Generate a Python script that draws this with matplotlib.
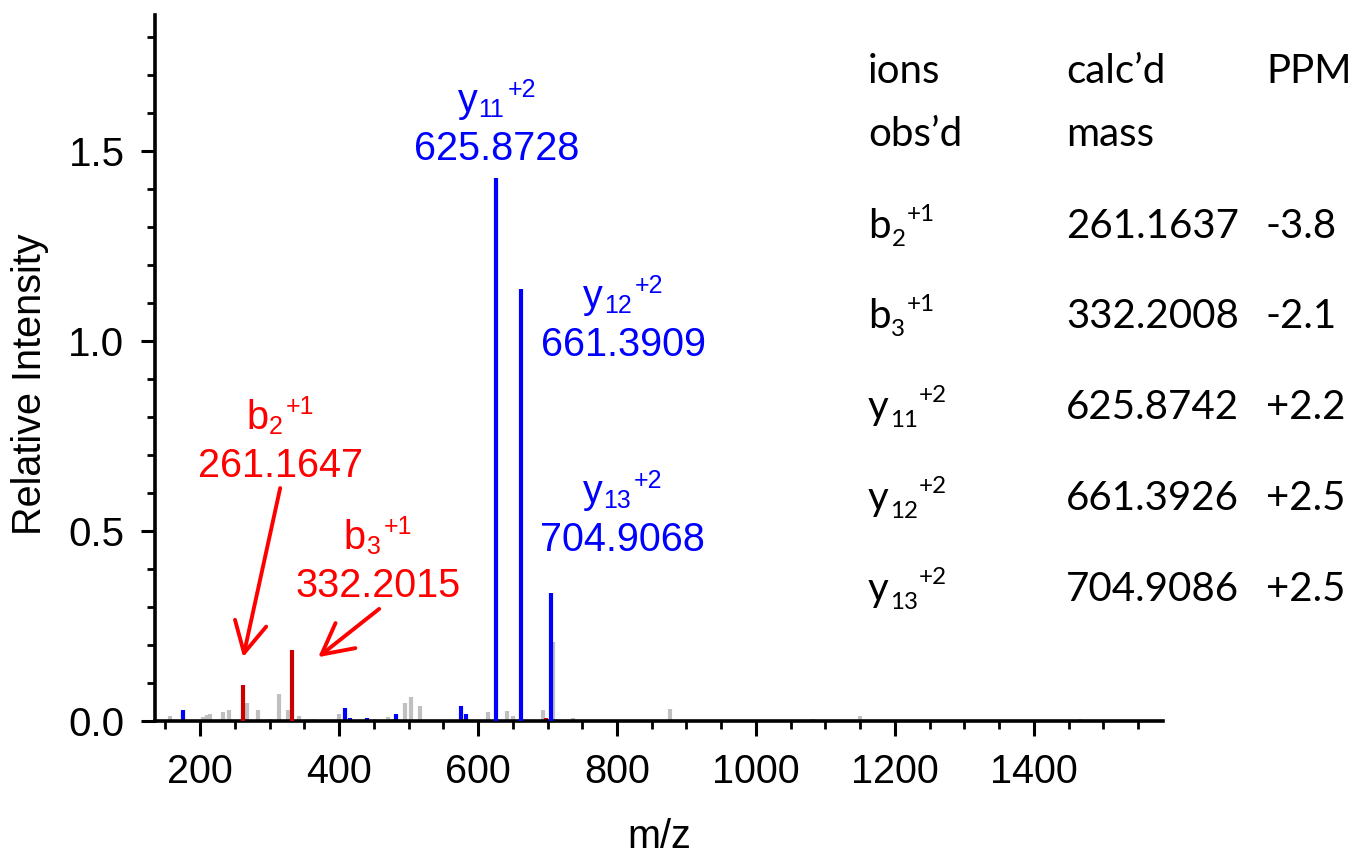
import matplotlib
matplotlib.use("Agg")
import matplotlib.pyplot as plt
from matplotlib import font_manager
from matplotlib.ticker import MultipleLocator, FixedLocator

# ---------------- spectrum data ----------------
# assigned b ions (red)
b_ion_mz = [261.1647, 332.2015]
b_ion_int = [0.095, 0.187]
b_ion_names = [("b", "2", "+1"), ("b", "3", "+1")]

# assigned y ions (blue)
y_ion_mz = [625.8728, 661.3909, 704.9068]
y_ion_int = [1.43, 1.137, 0.337]
y_ion_names = [("y", "11", "+2"), ("y", "12", "+2"), ("y", "13", "+2")]

# other small matched peaks
minor_blue_mz = [175, 408, 416, 440, 482, 535, 575, 582]
minor_blue_int = [0.028, 0.035, 0.009, 0.009, 0.019, 0.003, 0.039, 0.018]
minor_red_mz = [698.5]
minor_red_int = [0.009]

# unassigned peaks (grey)
gray_mz = [156, 204, 210, 214, 233, 242, 267, 283, 301, 313, 327, 342, 362,
           400, 452, 470, 476, 495, 503, 516, 615, 642, 650, 694, 708, 712,
           736, 876, 1082, 1150, 1466]
gray_int = [0.012, 0.011, 0.015, 0.018, 0.024, 0.030, 0.048, 0.028, 0.006,
            0.070, 0.029, 0.012, 0.004, 0.019, 0.004, 0.010, 0.005, 0.048,
            0.063, 0.039, 0.023, 0.027, 0.012, 0.028, 0.208, 0.005, 0.009,
            0.032, 0.004, 0.013, 0.004]

# mass accuracy table
table_header = [["ions", "calc\u2019d", "PPM"], ["obs\u2019d", "mass", ""]]
table_ions = [("b", "2", "+1"), ("b", "3", "+1"), ("y", "11", "+2"),
              ("y", "12", "+2"), ("y", "13", "+2")]
table_calc = ["261.1637", "332.2008", "625.8742", "661.3926", "704.9086"]
table_ppm = ["-3.8", "-2.1", "+2.2", "+2.5", "+2.5"]

x_major_ticks = [200, 400, 600, 800, 1000, 1200, 1400]

# ---------------- fonts ----------------
ARIAL = "Liberation Sans"
TABLE_FONT = "Lato"


def have_font(name):
    try:
        font_manager.findfont(font_manager.FontProperties(family=name),
                              fallback_to_default=False)
        return True
    except Exception:
        return False


NARROW = "Liberation Sans Narrow" if have_font("Liberation Sans Narrow") else ARIAL
YTICK_SIZE = 32 if NARROW != ARIAL else 29

# ---------------- figure ----------------
W, H, DPI = 1363, 858, 100
fig = plt.figure(figsize=(W / DPI, H / DPI), dpi=DPI)
ax = fig.add_axes([155 / W, (H - 721) / H, (1163 - 155) / W, 706 / H])

RED_TXT, RED_BAR, BLUE, GREY = "#ff0000", "#c80000", "#0000ff", "#c0c0c0"

bar_lw = 3.0
ax.vlines(gray_mz, 0, gray_int, colors=GREY, lw=bar_lw, zorder=1)
ax.vlines(minor_blue_mz, 0, minor_blue_int, colors=BLUE, lw=bar_lw, zorder=2)
ax.vlines(minor_red_mz, 0, minor_red_int, colors=RED_BAR, lw=bar_lw, zorder=2)
ax.vlines(b_ion_mz, 0, b_ion_int, colors=RED_BAR, lw=bar_lw, zorder=3)
ax.vlines(y_ion_mz, 0, y_ion_int, colors=BLUE, lw=bar_lw, zorder=3)

ax.set_xlim(135, 1586)
ax.set_ylim(0, 1.858)

for s in ("top", "right"):
    ax.spines[s].set_visible(False)
for s in ("left", "bottom"):
    ax.spines[s].set_linewidth(2.6)

ax.xaxis.set_major_locator(FixedLocator(x_major_ticks))
ax.xaxis.set_minor_locator(MultipleLocator(50))
ax.yaxis.set_major_locator(MultipleLocator(0.5))
ax.yaxis.set_minor_locator(MultipleLocator(0.1))
ax.set_yticklabels(["%.1f" % v for v in ax.get_yticks()])

ax.tick_params(axis="x", which="major", length=11, width=2.2, pad=12,
               labelsize=28.5, direction="out")
ax.tick_params(axis="x", which="minor", length=6, width=2.0, direction="out")
ax.tick_params(axis="y", which="major", length=10, width=2.2, pad=12,
               labelsize=YTICK_SIZE, direction="out")
ax.tick_params(axis="y", which="minor", length=5.5, width=2.0, direction="out")
for lbl in ax.get_xticklabels():
    lbl.set_fontfamily(ARIAL)
for lbl in ax.get_yticklabels():
    lbl.set_fontfamily(NARROW)

ax.set_xlabel("m/z", fontsize=28.5, family=ARIAL)
ax.set_ylabel("Relative Intensity", fontsize=28.5, family=ARIAL)
ax.xaxis.set_label_coords(0.5, -0.138)
ax.yaxis.set_label_coords(-0.105, 0.477)


def ion_name(x, y, coords, parts, size, family, color, ratio, drop, rise,
             gap=2.0):
    """Draw base letter + subscript + superscript placed after the subscript."""
    base, sub, sup = parts
    kw = dict(family=family, color=color, va="baseline", ha="left",
              annotation_clip=False)
    t0 = ax.annotate(base, xy=(x, y), xycoords=coords, xytext=(0, 0),
                     textcoords="offset points", fontsize=size, **kw)
    t1 = ax.annotate(sub, xy=(1, y), xycoords=(t0, coords),
                     xytext=(0.6, -drop), textcoords="offset points",
                     fontsize=size * ratio, **kw)
    t2 = ax.annotate(sup, xy=(1, y), xycoords=(t1, coords),
                     xytext=(gap, rise), textcoords="offset points",
                     fontsize=size * ratio, **kw)
    return t0, (t0, t1, t2)


# ---------------- peak annotations ----------------
LABEL_SIZE = 28.5
NAME_GAP = 0.126
# (number centre m/z, number baseline intensity) for each labelled peak
b_label_pos = [(315.2, 0.643), (455.6, 0.327)]
y_label_pos = [(626.9, 1.476), (809.0, 0.961), (808.3, 0.448)]

groups = []
for mzs, names, poses, col in ((b_ion_mz, b_ion_names, b_label_pos, RED_TXT),
                               (y_ion_mz, y_ion_names, y_label_pos, BLUE)):
    for mz, name, (lx, ly) in zip(mzs, names, poses):
        ax.text(lx, ly, "%.4f" % mz, fontsize=LABEL_SIZE, family=ARIAL,
                color=col, ha="center", va="baseline")
        head, parts = ion_name(lx, ly + NAME_GAP, "data", name, LABEL_SIZE,
                               ARIAL, col, 0.63, 3.6, 10.8, gap=2.2)
        groups.append((lx, ly, head, parts))

# arrows pointing to the b-ion peaks
arrow_props = dict(arrowstyle="->,head_length=2.2,head_width=1.15",
                   color=RED_TXT, lw=2.8, shrinkA=0, shrinkB=0)
ax.annotate("", xy=(261.9, 0.168), xytext=(315.2, 0.613),
            arrowprops=arrow_props, annotation_clip=False)
ax.annotate("", xy=(369.9, 0.168), xytext=(457.7, 0.295),
            arrowprops=arrow_props, annotation_clip=False)

# ---------------- mass table ----------------
TS = 29
col_x = [868, 1066, 1266]
header_y = [83, 146]
row_y = [238, 328, 419, 510, 601]


def fig_px(x, y):
    return x, H - y


for hy, row in zip(header_y, table_header):
    for cx, txt in zip(col_x, row):
        if txt:
            ax.annotate(txt, xy=fig_px(cx, hy), xycoords="figure pixels",
                        fontsize=TS, family=TABLE_FONT, ha="left",
                        va="baseline", annotation_clip=False)

for ry, name, calc, ppm in zip(row_y, table_ions, table_calc, table_ppm):
    ion_name(*fig_px(col_x[0], ry), "figure pixels", name, TS, TABLE_FONT,
             "black", 0.6, 6.0, 12.0, gap=1.2)
    for cx, txt in zip(col_x[1:], (calc, ppm)):
        ax.annotate(txt, xy=fig_px(cx, ry), xycoords="figure pixels",
                    fontsize=TS, family=TABLE_FONT, ha="left", va="baseline",
                    annotation_clip=False)

# centre each ion name over its m/z value
fig.canvas.draw()
for lx, ly, head, parts in groups:
    exts = [p.get_window_extent() for p in parts]
    x0 = min(e.x0 for e in exts)
    x1 = max(e.x1 for e in exts)
    target = ax.transData.transform((lx, ly))[0]
    shift_px = target - (x0 + x1) / 2
    head.xyann = (shift_px * 72 / DPI, 0)

fig.savefig("out.png", dpi=DPI)
